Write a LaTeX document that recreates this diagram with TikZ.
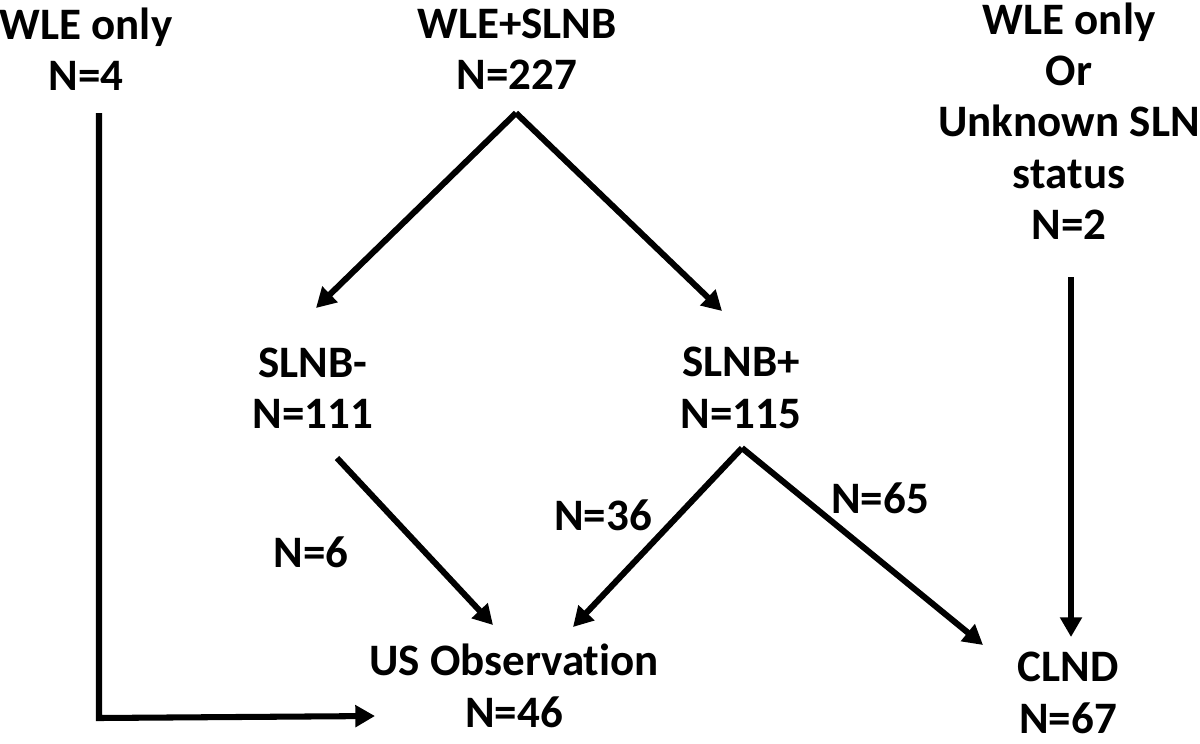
\documentclass[tikz,border=0pt]{standalone}
\usepackage{fontspec}
\setmainfont{Carlito}[Ligatures=NoCommon]
\usetikzlibrary{arrows.meta, positioning}

\begin{document}
\begin{tikzpicture}[
      x=0.025cm, y=-0.025cm,
      font=\fontsize{32}{36.5}\selectfont\bfseries,
      % --- Estilos ---
      grp/.style = {align=center, inner sep=0pt},
      cnt/.style = {inner sep=0pt},
      arrow/.style = {line width=4.3pt, -{Triangle[length=14pt, width=15pt]}}
    ]
      \useasboundingbox (0,0) rectangle (1200,743);

      % --- Grupos ---
      \node [grp] (wleonly) at (86,49) {WLE only\\N=4};
      \node [grp] (wleslnb) at (517,49) {WLE+SLNB\\N=227};
      \node [grp] (wleunk) at (1069,121) {WLE only\\Or\\Unknown SLN\\status\\N=2};
      \node [grp] (slnbneg) at (313,388) {SLNB-\\N=111};
      \node [grp] (slnbpos) at (741,388) {SLNB+\\N=115};
      \node [grp] (usobs) at (514,686) {US Observation\\N=46};
      \node [grp] (clnd) at (1068,693) {CLND\\N=67};

      % --- Contagens nas setas ---
      \node [cnt] (nsix) at (311,552) {N=6};
      \node [cnt] (nthirtysix) at (603,515) {N=36};
      \node [cnt] (nsixtyfive) at (880,498) {N=65};

      % --- Pontos das setas ---
      \coordinate (wletop) at (99,113);
      \coordinate (wlecorner) at (99,718);
      \coordinate (usin) at (375,716);
      \coordinate (split) at (516,113);
      \coordinate (negin) at (316,308);
      \coordinate (posin) at (722,311);
      \coordinate (negout) at (337,458);
      \coordinate (usneg) at (493,625);
      \coordinate (possplit) at (742,448);
      \coordinate (uspos) at (573,627);
      \coordinate (clndpos) at (983,645);
      \coordinate (unkout) at (1071,277);
      \coordinate (clndin) at (1071,637);

      % --- Conexões ---
      \draw [arrow] (wletop) -- (wlecorner) -- (usin);
      \draw [arrow] (split) -- (negin);
      \draw [arrow] (split) -- (posin);
      \draw [arrow] (negout) -- (usneg);
      \draw [arrow] (possplit) -- (uspos);
      \draw [arrow] (possplit) -- (clndpos);
      \draw [arrow] (unkout) -- (clndin);

    \end{tikzpicture}
\end{document}
